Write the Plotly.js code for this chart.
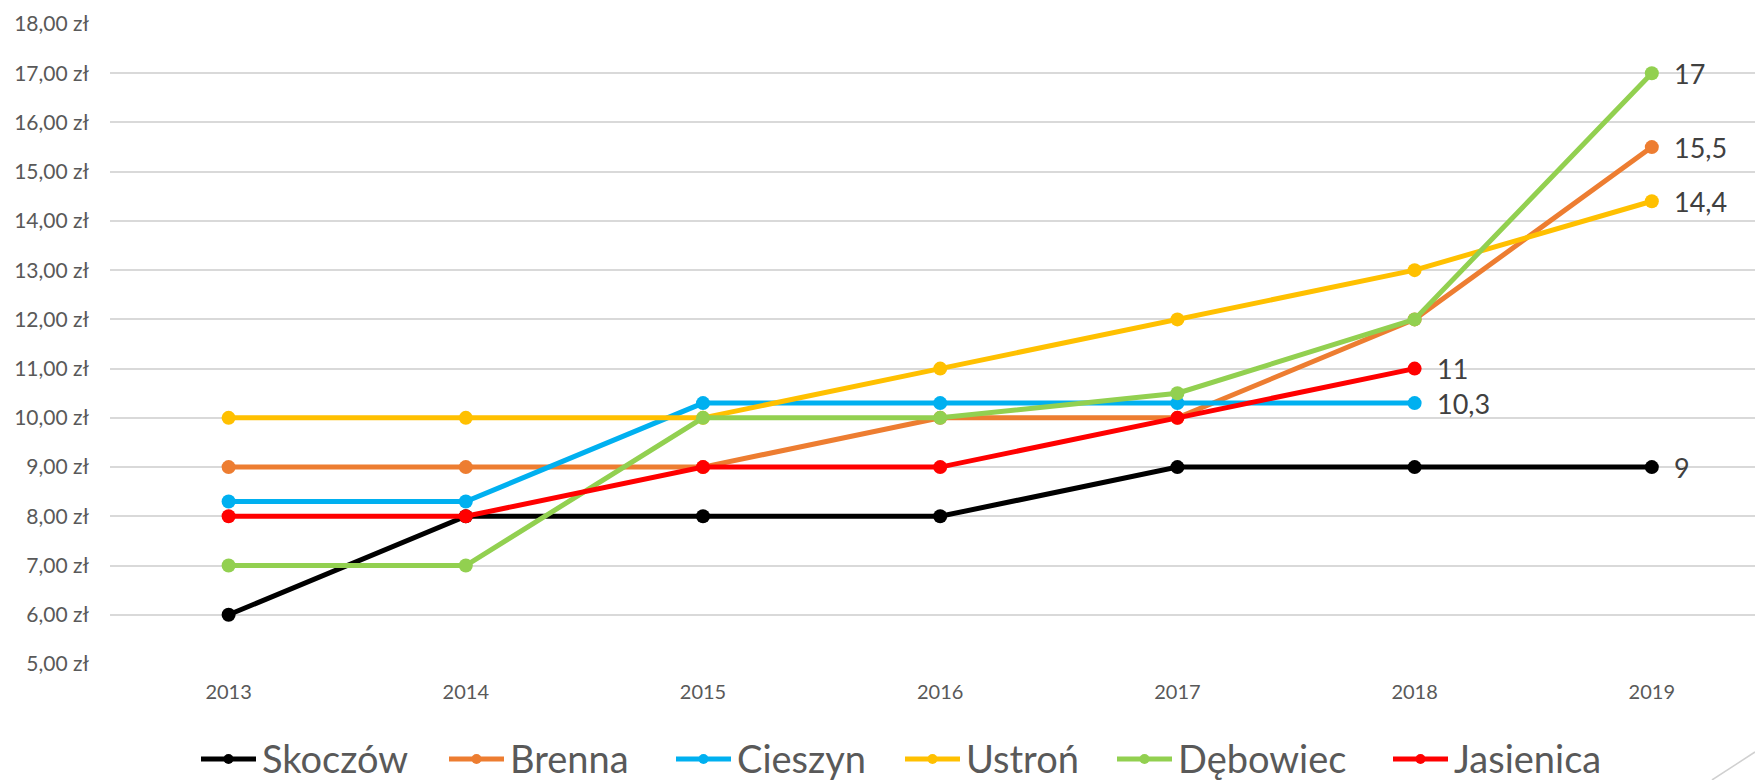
<!DOCTYPE html>
<html>
<head>
<meta charset="utf-8">
<script src="https://cdn.plot.ly/plotly-3.0.1.min.js"></script>
<style>
  html, body { margin: 0; padding: 0; background: #ffffff; overflow: hidden; }
  #chart { width: 1755px; height: 780px; }
</style>
</head>
<body>
<div id="chart"></div>
<script>
// ---- Data ----
const years = ['2013', '2014', '2015', '2016', '2017', '2018', '2019'];
const seriesNames = ['Skoczów', 'Brenna', 'Cieszyn', 'Ustroń', 'Dębowiec', 'Jasienica'];
const skoczow   = [6, 8, 8, 8, 9, 9, 9];
const brenna    = [9, 9, 9, 10, 10, 12, 15.5];
const cieszyn   = [8.3, 8.3, 10.3, 10.3, 10.3, 10.3, null];
const ustron    = [10, 10, 10, 11, 12, 13, 14.4];
const debowiec  = [7, 7, 10, 10, 10.5, 12, 17];
const jasienica = [8, 8, 9, 9, 10, 11, null];
const yTickVals = [5, 6, 7, 8, 9, 10, 11, 12, 13, 14, 15, 16, 17, 18];

// ---- Styles ----
const colors = ['#000000', '#ED7D31', '#00B0F0', '#FFC000', '#92D050', '#FF0000'];
const allValues = [skoczow, brenna, cieszyn, ustron, debowiec, jasienica];
const FONT = 'Lato, "Open Sans", sans-serif';

const W = 1755, H = 780;
const M = { l: 110, r: 0, t: 24, b: 116 };
const plotW = W - M.l - M.r, plotH = H - M.t - M.b;
const px2x = (px) => (px - M.l) / plotW;
const px2y = (py) => (H - M.b - py) / plotH;

const traces = allValues.map((vals, i) => ({
  type: 'scatter',
  mode: 'lines+markers',
  name: seriesNames[i],
  x: years,
  y: vals,
  line: { color: colors[i], width: 5 },
  marker: { color: colors[i], size: 14 },
  connectgaps: false,
  hoverinfo: 'x+y+name'
}));

// end-of-series value labels (last non-null point of each series)
function fmt(v) { return String(v).replace('.', ','); }
const annotations = allValues.map((vals) => {
  let idx = vals.length - 1;
  while (idx >= 0 && vals[idx] === null) idx--;
  return {
    x: idx, y: vals[idx], xref: 'x', yref: 'y',
    text: fmt(vals[idx]), showarrow: false,
    xanchor: 'left', yanchor: 'middle', xshift: 20,
    font: { family: FONT, size: 27, color: '#404040' }
  };
});

// ---- Legend (drawn manually to match the original's long line symbols) ----
const legendStarts = [201, 449, 676, 905, 1117, 1393]; // left edge of each symbol, px
const legendY = 759;
const symLen = 55, textGap = 4, markR = 5;
const shapes = [];
seriesNames.forEach((name, i) => {
  const x0 = legendStarts[i];
  shapes.push({
    type: 'line', xref: 'paper', yref: 'paper',
    x0: px2x(x0), x1: px2x(x0 + symLen), y0: px2y(legendY), y1: px2y(legendY),
    line: { color: colors[i], width: 5 }
  });
  const cx = x0 + symLen / 2;
  shapes.push({
    type: 'circle', xref: 'paper', yref: 'paper',
    x0: px2x(cx - markR), x1: px2x(cx + markR),
    y0: px2y(legendY - markR), y1: px2y(legendY + markR),
    fillcolor: colors[i], line: { color: colors[i], width: 0 }
  });
  annotations.push({
    xref: 'paper', yref: 'paper',
    x: px2x(x0 + symLen + textGap), y: px2y(legendY - 1),
    xanchor: 'left', yanchor: 'middle', showarrow: false,
    text: name,
    font: { family: FONT, size: 38, color: '#595959' }
  });
});

// small diagonal corner mark at bottom right
shapes.push({
  type: 'line', xref: 'paper', yref: 'paper',
  x0: px2x(1712), y0: px2y(780), x1: px2x(1755), y1: px2y(752),
  line: { color: '#D0D0D0', width: 1.5 }
});

const layout = {
  width: W,
  height: H,
  margin: { l: M.l, r: M.r, t: M.t, b: M.b, pad: 0 },
  paper_bgcolor: '#ffffff',
  plot_bgcolor: '#ffffff',
  font: { family: FONT, color: '#595959' },
  showlegend: false,
  xaxis: {
    type: 'category',
    range: [-0.5, 6.435],
    showgrid: false,
    zeroline: false,
    showline: false,
    ticks: '',
    tickfont: { family: FONT, size: 20, color: '#595959' },
    ticklabelstandoff: 14,
    fixedrange: true
  },
  yaxis: {
    range: [5, 18],
    tickvals: yTickVals,
    ticktext: yTickVals.map(v => v.toFixed(2).replace('.', ',') + ' zł'),
    showgrid: true,
    gridcolor: '#D9D9D9',
    gridwidth: 2,
    zeroline: false,
    showline: false,
    ticks: '',
    tickfont: { family: FONT, size: 21, color: '#595959' },
    ticklabelstandoff: 20,
    fixedrange: true
  },
  annotations: annotations,
  shapes: shapes
};

Plotly.newPlot('chart', traces, layout, { displayModeBar: false, staticPlot: true });
</script>
</body>
</html>
